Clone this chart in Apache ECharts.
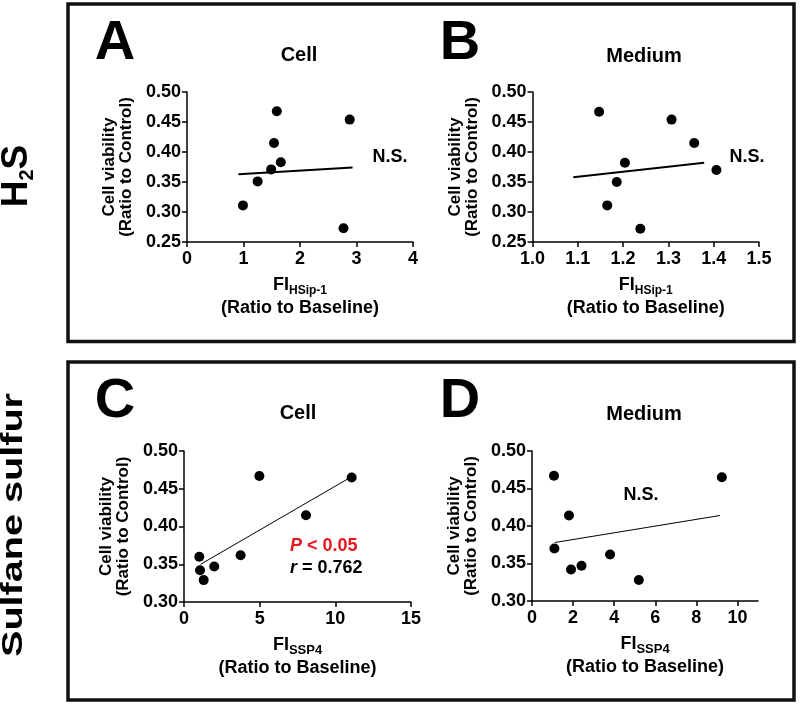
<!DOCTYPE html>
<html>
<head>
<meta charset="utf-8">
<script src="https://cdn.jsdelivr.net/npm/echarts@6/dist/echarts.min.js"></script>
<style>html,body{margin:0;padding:0;background:#fff}#c{width:800px;height:705px}</style>
</head>
<body>
<div id="c"></div>
<script>
// ---------- data ----------
// Panel A: H2S, Cell
const aX = [1.59, 2.88, 1.54, 1.66, 1.49, 1.25, 0.99, 2.77];
const aY = [0.468, 0.454, 0.415, 0.383, 0.371, 0.351, 0.311, 0.273];
const aFitX = [0.91, 2.93];
const aFitY = [0.363, 0.374];
// Panel B: H2S, Medium
const bX = [1.147, 1.307, 1.357, 1.204, 1.406, 1.186, 1.165, 1.238];
const bY = [0.467, 0.454, 0.415, 0.382, 0.370, 0.350, 0.311, 0.272];
const bFitX = [1.09, 1.379];
const bFitY = [0.358, 0.382];
// Panel C: Sulfane sulfur, Cell
const cX = [4.98, 11.08, 8.06, 3.74, 1.01, 2.0, 1.06, 1.30];
const cY = [0.467, 0.465, 0.415, 0.362, 0.360, 0.347, 0.342, 0.329];
const cFitX = [1.10, 11.08];
const cFitY = [0.350, 0.466];
// Panel D: Sulfane sulfur, Medium
const dX = [1.07, 9.24, 1.80, 1.09, 3.80, 2.41, 1.90, 5.20];
const dY = [0.467, 0.465, 0.414, 0.370, 0.362, 0.347, 0.342, 0.328];
const dFitX = [1.11, 9.15];
const dFitY = [0.378, 0.414];

// tick labels
const xTicksA = [0, 1, 2, 3, 4];
const xTicksB = [1.0, 1.1, 1.2, 1.3, 1.4, 1.5];
const xTicksC = [0, 5, 10, 15];
const xTicksD = [0, 2, 4, 6, 8, 10];
const xMaxD = 11;
const yTicksTop = [0.25, 0.30, 0.35, 0.40, 0.45, 0.50];
const yTicksBottom = [0.30, 0.35, 0.40, 0.45, 0.50];

// texts
const panelLetters = ['A', 'B', 'C', 'D'];
const panelTitles = ['Cell', 'Medium', 'Cell', 'Medium'];
const rowLabels = ['H2S', 'Sulfane sulfur'];
const yName = 'Cell viability\n(Ratio to Control)';
const xProbeTop = 'HSip-1';
const xProbeBottom = 'SSP4';
const xNameLine2 = '(Ratio to Baseline)';
const nsText = 'N.S.';
const pText = ' < 0.05';
const rText = ' = 0.762';

// ---------- helpers ----------
const F = '"Liberation Sans", Arial, Helvetica, sans-serif';
const zip = (xs, ys) => xs.map((x, i) => [x, ys[i]]);

function xAxis(idx, ticks, max, dec, sub, subSize) {
  const interval = ticks[1] - ticks[0];
  return {
    type: 'value', gridIndex: idx, min: ticks[0], max: max, interval: interval,
    axisLine: { show: true, onZero: false, lineStyle: { color: '#000', width: 1.5 } },
    axisTick: { show: true, length: 5, inside: false, customValues: ticks, lineStyle: { color: '#000', width: 1.5 } },
    axisLabel: {
      customValues: ticks, margin: 8, color: '#000', fontFamily: F, fontWeight: 'bold', fontSize: 18,
      formatter: v => Number(v).toFixed(dec)
    },
    splitLine: { show: false },
    name: '{f|FI}{s|' + sub + '}\n{r|' + xNameLine2 + '}',
    nameLocation: 'middle', nameGap: 32,
    nameTextStyle: {
      color: '#000',
      rich: {
        f: { fontFamily: F, fontWeight: 'bold', fontSize: 18, lineHeight: 23, color: '#000' },
        s: { fontFamily: F, fontWeight: 'bold', fontSize: subSize, lineHeight: 13, verticalAlign: 'bottom', color: '#000' },
        r: { fontFamily: F, fontWeight: 'bold', fontSize: 18, lineHeight: 23, color: '#000' }
      }
    }
  };
}
function yAxis(idx, ticks) {
  const interval = 0.05;
  return {
    type: 'value', gridIndex: idx, min: ticks[0], max: ticks[ticks.length - 1], interval: interval,
    axisLine: { show: true, onZero: false, lineStyle: { color: '#000', width: 1.5 } },
    axisTick: { show: true, length: 5, customValues: ticks, lineStyle: { color: '#000', width: 1.5 } },
    axisLabel: {
      customValues: ticks, margin: 6, color: '#000', fontFamily: F, fontWeight: 'bold', fontSize: 18,
      formatter: v => Number(v).toFixed(2)
    },
    splitLine: { show: false },
    name: yName, nameLocation: 'middle', nameRotate: 90, nameGap: 52,
    nameTextStyle: { color: '#000', fontFamily: F, fontWeight: 'bold', fontSize: 17, lineHeight: 17 }
  };
}
function scatter(idx, xs, ys) {
  return { type: 'scatter', xAxisIndex: idx, yAxisIndex: idx, data: zip(xs, ys),
    symbol: 'circle', symbolSize: 10, itemStyle: { color: '#000', opacity: 1 }, silent: true };
}
function fit(idx, xs, ys, w) {
  return { type: 'line', xAxisIndex: idx, yAxisIndex: idx, data: zip(xs, ys),
    showSymbol: false, symbol: 'none', lineStyle: { color: '#000', width: w }, silent: true };
}
function txt(x, y, text, size, weight, extra) {
  return Object.assign({ type: 'text', x: x, y: y, silent: true,
    style: { text: text, fontFamily: F, fontSize: size, fontWeight: weight, fill: '#000',
      textAlign: 'center', textVerticalAlign: 'middle' } }, extra || {});
}

const chart = echarts.init(document.getElementById('c'), null, { renderer: 'canvas' });
chart.setOption({
  animation: false,
  backgroundColor: '#fff',
  grid: [
    { left: 187, top: 92, width: 226, height: 150 },
    { left: 532.5, top: 92, width: 226.5, height: 150 },
    { left: 184, top: 451, width: 227, height: 151 },
    { left: 532, top: 451, width: 226, height: 150 }
  ],
  xAxis: [
    xAxis(0, xTicksA, xTicksA[xTicksA.length - 1], 0, xProbeTop, 12),
    xAxis(1, xTicksB, xTicksB[xTicksB.length - 1], 1, xProbeTop, 12),
    xAxis(2, xTicksC, xTicksC[xTicksC.length - 1], 0, xProbeBottom, 13),
    xAxis(3, xTicksD, xMaxD, 0, xProbeBottom, 13)
  ],
  yAxis: [
    yAxis(0, yTicksTop), yAxis(1, yTicksTop), yAxis(2, yTicksBottom), yAxis(3, yTicksBottom)
  ],
  series: [
    scatter(0, aX, aY), fit(0, aFitX, aFitY, 2),
    scatter(1, bX, bY), fit(1, bFitX, bFitY, 2),
    scatter(2, cX, cY), fit(2, cFitX, cFitY, 1),
    scatter(3, dX, dY), fit(3, dFitX, dFitY, 1)
  ],
  graphic: [
    { type: 'rect', silent: true, shape: { x: 68, y: 4, width: 726, height: 337.5 },
      style: { fill: 'none', stroke: '#111', lineWidth: 3.5 } },
    { type: 'rect', silent: true, shape: { x: 68, y: 362, width: 726, height: 338 },
      style: { fill: 'none', stroke: '#111', lineWidth: 3.5 } },
    txt(115, 44, panelLetters[0], 56, 'bold'),
    txt(460, 44, panelLetters[1], 56, 'bold'),
    txt(115, 402, panelLetters[2], 56, 'bold'),
    txt(460, 402, panelLetters[3], 56, 'bold'),
    txt(299, 55, panelTitles[0], 20, 'bold'),
    txt(644, 56, panelTitles[1], 20, 'bold'),
    txt(298, 413, panelTitles[2], 20, 'bold'),
    txt(644, 414, panelTitles[3], 20, 'bold'),
    txt(390, 157, nsText, 18, 'bold'),
    txt(747, 157, nsText, 18, 'bold'),
    txt(641, 495, nsText, 18, 'bold'),
    { type: 'text', x: 290, y: 546, silent: true,
      style: { text: '{i|P}{t|' + pText + '}', textAlign: 'left', textVerticalAlign: 'middle',
        rich: {
          i: { fontFamily: F, fontSize: 18, fontWeight: 'bold', fontStyle: 'italic', fill: '#e8151b', color: '#e8151b' },
          t: { fontFamily: F, fontSize: 18, fontWeight: 'bold', fill: '#e8151b', color: '#e8151b' }
        } } },
    { type: 'text', x: 290, y: 568, silent: true,
      style: { text: '{i|r}{t|' + rText + '}', textAlign: 'left', textVerticalAlign: 'middle',
        rich: {
          i: { fontFamily: F, fontSize: 18, fontWeight: 'bold', fontStyle: 'italic', fill: '#000', color: '#000' },
          t: { fontFamily: F, fontSize: 18, fontWeight: 'bold', fill: '#000', color: '#000' }
        } } },
    { type: 'text', x: 17, y: 176, rotation: Math.PI / 2, silent: true,
      style: { text: '{a|' + rowLabels[0].charAt(0) + '}{b|' + rowLabels[0].charAt(1) + '}{a|' + rowLabels[0].charAt(2) + '}',
        textAlign: 'center', textVerticalAlign: 'middle',
        rich: {
          a: { fontFamily: F, fontSize: 37, fontWeight: 'bold', lineHeight: 40, fill: '#000', color: '#000' },
          b: { fontFamily: F, fontSize: 20, fontWeight: 'bold', lineHeight: 20, verticalAlign: 'bottom', fill: '#000', color: '#000' }
        } } },
    { type: 'text', x: 14, y: 525, rotation: Math.PI / 2, scaleX: 1.32, silent: true,
      style: { text: rowLabels[1], fontFamily: F, fontSize: 30, fontWeight: 'bold', fill: '#000',
        textAlign: 'center', textVerticalAlign: 'middle' } }
  ]
});
</script>
</body>
</html>
